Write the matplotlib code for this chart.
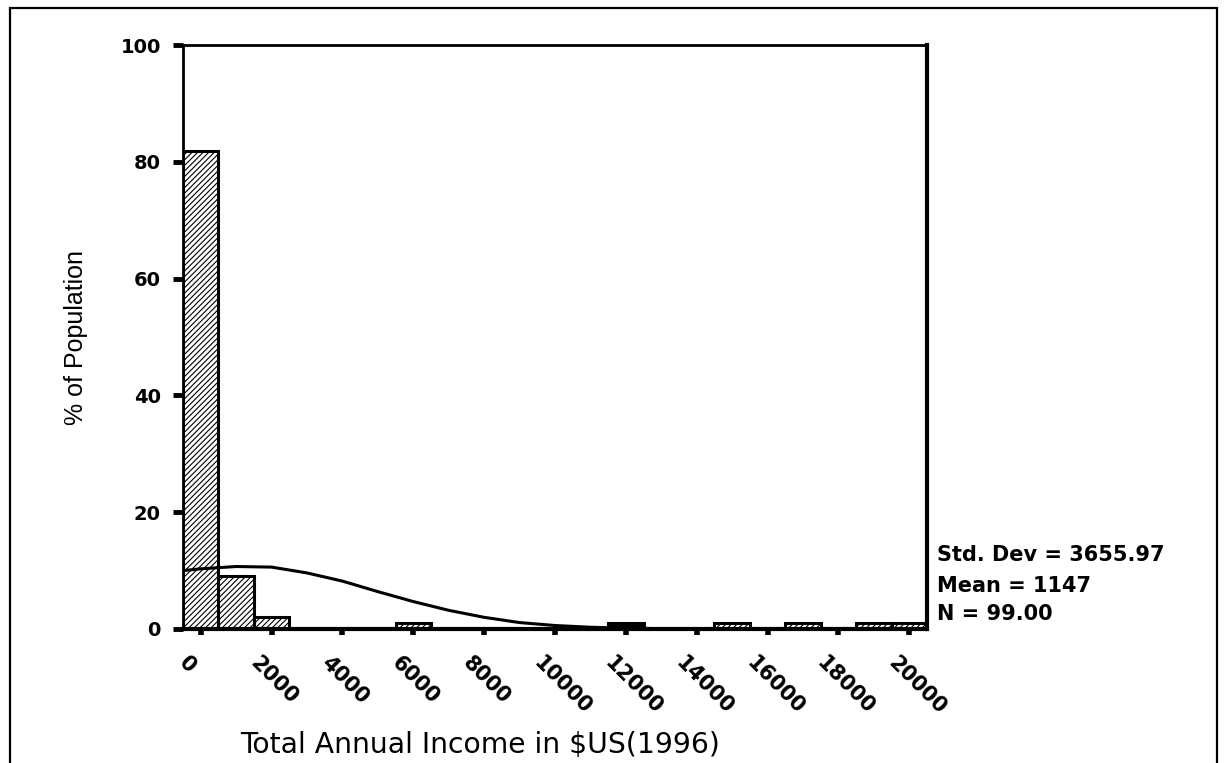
import matplotlib
matplotlib.use("Agg")
import matplotlib.pyplot as plt
from matplotlib.patches import Rectangle
from matplotlib.transforms import ScaledTranslation, blended_transform_factory

# ---- data ----
bin_centers = [0, 1000, 2000, 6000, 12000, 15000, 17000, 19000, 20000]
pct_values = [81.8, 9.1, 2.0, 1.0, 1.0, 1.0, 1.0, 1.0, 1.0]
bar_fill = ["white", "white", "white", "white", "black", "white", "white", "white", "white"]
bin_width = 1000

curve_x = [-500, 0, 1000, 2000, 3000, 4000, 5000, 6000, 7000, 8000, 9000,
           10000, 11000, 12000, 13000, 14000, 16000, 18000, 20500]
curve_y = [10.0, 10.3, 10.7, 10.6, 9.6, 8.2, 6.4, 4.7, 3.2, 2.0, 1.1,
           0.6, 0.3, 0.15, 0.06, 0.02, 0.0, 0.0, 0.0]

x_ticks = [0, 2000, 4000, 6000, 8000, 10000, 12000, 14000, 16000, 18000, 20000]
y_ticks = [0, 20, 40, 60, 80, 100]
stats_lines = ["Std. Dev = 3655.97", "Mean = 1147", "N = 99.00"]
x_label = "Total Annual Income in $US(1996)"
y_label = "% of Population"

W, H = 1224, 763
plt.rcParams["hatch.linewidth"] = 0.8
fig = plt.figure(figsize=(W / 100, H / 100), dpi=100)
fig.patch.set_facecolor("white")

# outer frame
fig.add_artist(Rectangle((10 / W, -0.02), (1217 - 10) / W, 1 - 8 / H + 0.02,
                         transform=fig.transFigure, fill=False, lw=1.6,
                         edgecolor="black"))

left, right, top, bottom = 183, 927, 45, 629
ax = fig.add_axes([left / W, 1 - bottom / H, (right - left) / W, (bottom - top) / H])

for c, v, fc in zip(bin_centers, pct_values, bar_fill):
    ax.bar(c, v, width=bin_width, color=fc, edgecolor="black", linewidth=2.2,
           hatch="//////", align="center", zorder=2)

ax.plot(curve_x, curve_y, color="black", lw=2.2, zorder=3)

ax.set_xlim(-500, 20500)
ax.set_ylim(0, 100)
ax.set_xticks(x_ticks)
ax.set_yticks(y_ticks)
ax.set_yticklabels([str(t) for t in y_ticks], fontsize=14, fontweight="bold",
                   family="DejaVu Sans")
ax.set_xticklabels([])

# rotated x tick labels placed just below each tick
base = blended_transform_factory(ax.transData, ax.transAxes)
off = ScaledTranslation(-18 / 100, -31 / 100, fig.dpi_scale_trans)
for t in x_ticks:
    ax.text(t, 0, str(t), transform=base + off, rotation=-45,
            rotation_mode="anchor", ha="left", va="center", fontsize=15,
            fontweight="bold", family="DejaVu Sans", clip_on=False)

ax.tick_params(axis="y", direction="out", length=7, width=3.5, pad=9)
ax.tick_params(axis="x", direction="out", length=4, width=4)

for s in ["left", "top"]:
    ax.spines[s].set_linewidth(2.0)
for s in ["right", "bottom"]:
    ax.spines[s].set_linewidth(3.0)

fig.text(76 / W, 1 - 337 / H, y_label, rotation=90, ha="center", va="center",
         fontsize=18, family="Liberation Sans")
fig.text(480 / W, 1 - 745 / H, x_label, ha="center", va="center",
         fontsize=20.3, family="DejaVu Sans")

for t, yy in zip(stats_lines, [555, 586, 614]):
    fig.text(937 / W, 1 - yy / H, t, ha="left", va="center", fontsize=15,
             fontweight="bold", family="DejaVu Sans")

fig.savefig("out.png", dpi=100)
